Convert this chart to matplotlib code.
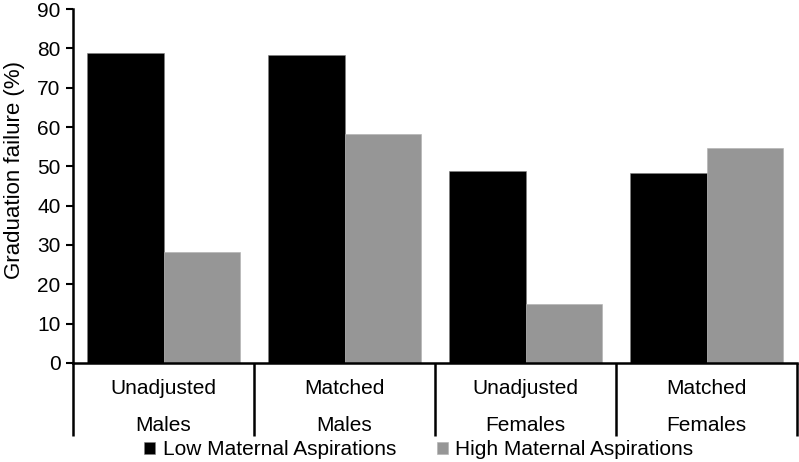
import matplotlib.pyplot as plt
import matplotlib.transforms as mtransforms
import numpy as np

plt.rcParams['font.family'] = ['Liberation Sans', 'DejaVu Sans']

methods = ["Unadjusted", "Matched", "Unadjusted", "Matched"]
sexes = ["Males", "Males", "Females", "Females"]
low_asp = [78.8, 78.3, 48.9, 48.2]
high_asp = [28.2, 58.3, 15.0, 54.7]
series_names = ["Low Maternal Aspirations", "High Maternal Aspirations"]
yticks = list(range(0, 100, 10))

fig = plt.figure(figsize=(7.99, 4.62), dpi=100)
ax = fig.add_axes([0.0914, 0.2143, 0.9061, 0.7662])

x = np.arange(len(methods))
w = 0.425
ax.bar(x - w / 2, low_asp, w, color="black", edgecolor="#808080", linewidth=0.4,
       label=series_names[0])
ax.bar(x + w / 2, high_asp, w, color="#969696", edgecolor="#b0b0b0", linewidth=0.4,
       label=series_names[1])

ax.set_xlim(-0.5, len(methods) - 0.5)
ax.set_ylim(0, 90)
ax.set_yticks(yticks)
ax.tick_params(axis="y", direction="out", length=5, width=1.5, labelsize=15, pad=4)
ax.set_xticks([])
for s in ["top", "right"]:
    ax.spines[s].set_visible(False)
ax.spines["left"].set_linewidth(1.8)
ax.spines["bottom"].set_linewidth(1.8)
ax.set_ylabel("Graduation failure (%)", fontsize=16)
ax.yaxis.set_label_coords(-0.066, 0.545)

# category separators below the axis
trans = mtransforms.blended_transform_factory(ax.transData, ax.transAxes)
for xs in np.arange(-0.5, len(methods), 1.0):
    ax.plot([xs, xs], [0, -0.205], color="black", lw=1.8, transform=trans,
            clip_on=False, solid_capstyle="butt")
for i in range(len(methods)):
    ax.text(x[i], -0.072, methods[i], transform=trans, ha="center", va="center",
            fontsize=15)
    ax.text(x[i], -0.176, sexes[i], transform=trans, ha="center", va="center",
            fontsize=15)

fig.legend(loc="center", bbox_to_anchor=(0.524, 0.026), ncol=2, frameon=False,
           fontsize=15, handlelength=0.55, handleheight=0.55, handletextpad=0.35,
           columnspacing=1.95, borderpad=0)

fig.savefig("out.png", dpi=100)
